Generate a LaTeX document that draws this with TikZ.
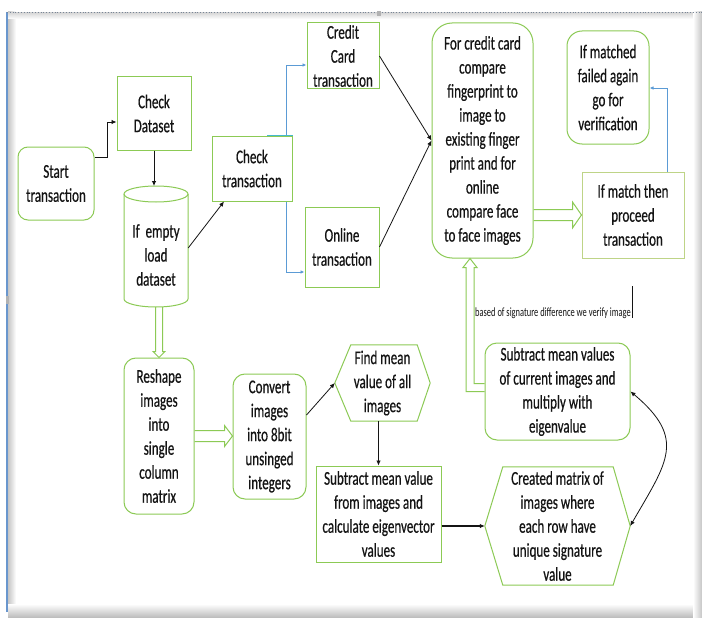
\documentclass[tikz,border=0pt]{standalone}
\usepackage{fontspec}
\usetikzlibrary{arrows.meta,calc}
\newfontfamily\boxfont[FakeStretch=0.67,FakeBold=0.5]{Carlito}
\newfontfamily\notefont[FakeStretch=0.67]{Carlito}
\definecolor{boxgreen}{RGB}{140,202,85}
\definecolor{palegreen}{RGB}{190,212,135}
\definecolor{linkblue}{RGB}{91,155,213}
\definecolor{tealmark}{RGB}{70,185,205}
\definecolor{frameblue}{RGB}{105,150,205}
\definecolor{inkdark}{RGB}{20,20,20}
\tikzset{
  lbl/.style={font=\boxfont\fontsize{19.5}{24}\selectfont, align=center, inner sep=0pt, text=inkdark},
  sqbox/.style={lbl, draw=boxgreen, line width=1pt},
  rbox/.style={sqbox, rounded corners=#1},
  boxline/.style={draw=boxgreen, line width=1pt},
  hollow/.style={draw=boxgreen, line width=1pt, line join=miter},
  tip/.tip={Latex[length=5pt,width=4.5pt]},
  blk/.style={draw=inkdark, line width=0.8pt, -tip},
  blue/.style={draw=linkblue, line width=0.8pt, -{Latex[length=4pt,width=3.5pt]}},
  smalltxt/.style={font=\notefont\fontsize{12.6}{14}\selectfont, inner sep=0pt, text=inkdark}
}
\begin{document}
\begin{tikzpicture}[x=1pt, y=-1pt]
\useasboundingbox (0,0) rectangle (702,618);
\fill[white] (0,0) rectangle (702,618);

% window frame and its shadows
\shade[left color=gray!45, right color=white] (8,12) rectangle (16,612);
\shade[top color=gray!30, bottom color=white] (8,13) rectangle (702,19);
\shade[top color=white, bottom color=gray!55] (8,604) rectangle (702,618);
\shade[left color=white, right color=gray!45] (693,12) rectangle (702,618);
\draw[frameblue, line width=1.6pt] (7,12) -- (7,612);
\draw[gray!70!frameblue, line width=0.8pt, dotted] (7,12) -- (702,12);
\fill[gray!60] (377,11) rectangle (381,16);
\fill[gray!60] (6,296) rectangle (9,304);

% boxes
\node[rbox=10pt, minimum width=76pt, minimum height=73pt] (start) at (56,183.5) {Start\\transaction};
\node[sqbox, minimum width=74pt, minimum height=73pt] (chkdata) at (154,113.5) {Check\\Dataset};
\node[lbl, minimum width=64pt, minimum height=104pt] (cyl) at (156,255) {If~ empty\\load\\dataset};
\coordinate (cyltop) at (156,186);
\node[sqbox, minimum width=80pt, minimum height=65pt] (chktr) at (252,168.5) {Check\\transaction};
\node[sqbox, minimum width=72pt, minimum height=66pt] (credit) at (343,56) {Credit\\Card\\transaction};
\node[sqbox, minimum width=74pt, minimum height=80pt] (online) at (342,247) {Online\\transaction};
\node[rbox=20pt, minimum width=101pt, minimum height=235pt] (big) at (482.5,140.5)
  {For credit card\\compare\\fingerprint to\\image to\\existing finger\\print and for\\online\\compare face\\to face images};
\node[lbl, draw=palegreen, line width=1pt, minimum width=102pt, minimum height=86pt] (proceed) at (633,215) {If match then\\proceed\\transaction};
\node[rbox=15pt, minimum width=82pt, minimum height=113pt] (failed) at (608,87.5) {If matched\\failed again\\go for\\verification};
\node[rbox=12pt, minimum width=70pt, minimum height=156pt] (reshape) at (159,436) {Reshape\\images\\into\\single\\column\\matrix};
\node[rbox=12pt, minimum width=73pt, minimum height=125pt] (convert) at (269.5,436.5) {Convert\\images\\into 8bit\\unsinged\\integers};
\node[lbl, minimum width=95pt, minimum height=76pt] (fm) at (382.5,383) {Find mean\\value of all\\images};
\node[sqbox, minimum width=125pt, minimum height=96pt] (submean) at (378.5,514) {Subtract mean value\\from images and\\calculate eigenvector\\values};
\node[lbl, minimum width=145pt, minimum height=118pt] (created) at (557.5,526) {Created matrix of\\images where\\each row have\\unique signature\\value};
\node[rbox=12pt, minimum width=145pt, minimum height=97pt] (subvals) at (557.5,391.5) {Subtract mean values\\of current images and\\multiply with\\eigenvalue};
\node[smalltxt, anchor=west] (sig) at (475,313) {based of signature difference we verify image};
\draw[inkdark, line width=0.8pt] ($(sig.east)+(1,-27)$) -- ($(sig.east)+(1,5)$);

% cylinder outline
\draw[boxline] (124,194) -- (124,299) arc[start angle=180, end angle=360, x radius=32pt, y radius=8pt] -- (188,194);
\draw[boxline] (156,194) ellipse [x radius=32pt, y radius=8pt];

% hexagons
\draw[boxline] (fm.west) -- ([xshift=16pt]fm.north west) -- ([xshift=-13pt]fm.north east) -- (fm.east)
  -- ([xshift=-13pt]fm.south east) -- ([xshift=16pt]fm.south west) -- cycle;
\draw[boxline] (created.west) -- ([xshift=18pt]created.north west) -- ([xshift=-17pt]created.north east) -- (created.east)
  -- ([xshift=-17pt]created.south east) -- ([xshift=18pt]created.south west) -- cycle;

% connectors
\draw[blk] ([yshift=26.5pt]start.east) -- ++(13,0) |- ([yshift=-8.5pt]chkdata.west);
\draw[blk] (chkdata.south) -- (chkdata.south |- cyltop);
\draw[blk] ([yshift=7pt]cyl.east) -- ([xshift=-28pt]chktr.south);
\draw[blue] ([xshift=34pt]chktr.north) |- ([yshift=-9pt]credit.west);
\draw[blue] ([xshift=34pt]chktr.south) |- ([yshift=-25pt]online.west);
\draw[tealmark, line width=1.2pt] ([xshift=15pt]chktr.north) -- (chktr.north east);
\draw[blk] (credit.east) -- (big.west);
\draw[blk] (online.east) -- (big.west);
\draw[blue] ([xshift=-17pt]proceed.north east) |- ([yshift=-0.5pt]failed.east);
\draw[blk] ([yshift=21.5pt]convert.east) -- (fm.west);
\draw[blk] (submean.north |- fm.south) -- (submean.north);
\draw[blk, line width=1.5pt] (submean.east |- created.west) -- (created.west);
\draw[draw=inkdark, line width=0.8pt, tip-tip] (subvals.east) to[out=-40, in=60, looseness=1.4] (created.east);

% outlined block arrows
\draw[hollow] let \p1=(reshape.east), \p2=(convert.west) in
  (\x1,\y1+5.5pt) -- (\x2-8pt,\y1+5.5pt) -- (\x2-8pt,\y1+10.5pt) -- (\x2,\y1)
  -- (\x2-8pt,\y1-10.5pt) -- (\x2-8pt,\y1-5.5pt) -- (\x1,\y1-5.5pt);
\draw[hollow] let \p1=(big.east |- proceed.west), \p2=(proceed.west) in
  (\x1,\y1+5.5pt) -- (\x2-9pt,\y1+5.5pt) -- (\x2-9pt,\y1+13pt) -- (\x2,\y1)
  -- (\x2-9pt,\y1-13pt) -- (\x2-9pt,\y1-5.5pt) -- (\x1,\y1-5.5pt);
\draw[hollow] let \p1=(reshape.north |- cyl.south), \p2=(reshape.north) in
  (\x1-3.5pt,\y1) -- (\x1-3.5pt,\y2+6pt) -- (\x1-6pt,\y2+6pt) -- (\x2,\y2)
  -- (\x1+6pt,\y2+6pt) -- (\x1+3.5pt,\y2+6pt) -- (\x1+3.5pt,\y1);
\draw[hollow] let \p1=([yshift=4pt]subvals.west), \p2=([xshift=-12.5pt]big.south) in
  (\x1,\y1+4pt) -- (\x2+4pt,\y1+4pt) -- (\x2+4pt,\y2-9pt) -- (\x2+7pt,\y2-9pt) -- (\x2,\y2)
  -- (\x2-7pt,\y2-9pt) -- (\x2-4pt,\y2-9pt) -- (\x2-4pt,\y1-4pt) -- (\x1,\y1-4pt);
\end{tikzpicture}
\end{document}
